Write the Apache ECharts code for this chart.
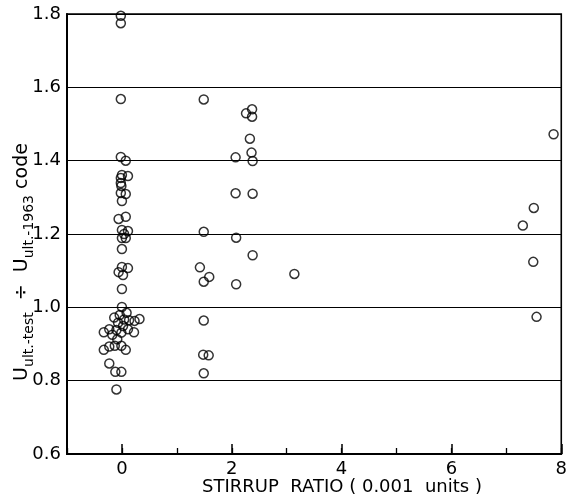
<!DOCTYPE html>
<html>
<head>
<meta charset="utf-8">
<script src="https://cdn.jsdelivr.net/npm/echarts@6/dist/echarts.min.js"></script>
<style>
  html, body { margin: 0; padding: 0; background: #fff; }
  #chart { width: 570px; height: 497px; }
</style>
</head>
<body>
<div id="chart"></div>
<script>
// === ДАННЫЕ ===
// stirrup ratio (0.001 units) vs U_ult-test / U_ult-1963 code
const noStirrups = [
  [-0.02, 1.795], [-0.02, 1.775], [-0.02, 1.568],
  [-0.02, 1.410], [0.07, 1.400], [0.00, 1.361], [0.11, 1.358], [-0.02, 1.353],
  [-0.02, 1.339], [-0.01, 1.331], [-0.02, 1.312], [0.07, 1.309], [0.00, 1.290],
  [-0.06, 1.241], [0.07, 1.247], [0.00, 1.211], [0.11, 1.208], [0.04, 1.200],
  [0.00, 1.189], [0.07, 1.189], [0.00, 1.159], [0.00, 1.110], [0.11, 1.107],
  [-0.06, 1.096], [0.02, 1.088], [0.00, 1.050], [0.00, 1.001],
  [-0.04, 0.979], [0.085, 0.985], [-0.14, 0.972], [0.04, 0.967], [-0.07, 0.958],
  [0.13, 0.965], [0.23, 0.963], [0.32, 0.968], [0.02, 0.949], [-0.23, 0.940],
  [-0.10, 0.938], [0.11, 0.940], [-0.33, 0.932], [-0.175, 0.925], [-0.01, 0.931],
  [0.22, 0.932], [-0.085, 0.913], [-0.33, 0.884], [-0.23, 0.893], [-0.13, 0.895],
  [-0.01, 0.895], [0.07, 0.884], [-0.23, 0.847], [-0.12, 0.824], [-0.01, 0.824],
  [-0.10, 0.776]
];
const lowStirrups = [
  [1.49, 1.567], [2.26, 1.529], [2.37, 1.540], [2.37, 1.520], [2.33, 1.460],
  [2.36, 1.422], [2.07, 1.409], [2.38, 1.399], [2.07, 1.311], [2.38, 1.310],
  [1.49, 1.206], [2.08, 1.190], [2.38, 1.142], [1.42, 1.109], [1.59, 1.083],
  [1.49, 1.070], [2.08, 1.063], [3.14, 1.091], [1.49, 0.964], [1.48, 0.871],
  [1.58, 0.869], [1.49, 0.820]
];
const highStirrups = [
  [7.86, 1.472], [7.50, 1.271], [7.30, 1.223], [7.49, 1.124], [7.55, 0.974]
];
const xMajorTicks = [0, 2, 4, 6, 8];
const yTicks = [0.6, 0.8, 1.0, 1.2, 1.4, 1.6, 1.8];

// === РЕНДЕРИНГ ===
const chart = echarts.init(document.getElementById('chart'));
const font = 'DejaVu Sans';

const pointStyle = {
  type: 'scatter',
  symbol: 'circle',
  symbolSize: 9,
  itemStyle: { color: 'rgba(0,0,0,0)', borderColor: '#000', borderWidth: 1.5 },
  silent: true
};

chart.setOption({
  animation: false,
  grid: { left: 67, right: 5, top: 14, bottom: 43, show: true, borderColor: '#000', borderWidth: 1.6 },
  xAxis: [
    {
      // минорные засечки на каждой единице + подписи на чётных
      type: 'value', min: -1, max: 8, interval: 1,
      axisLine: { show: true, onZero: false, lineStyle: { color: '#000', width: 2 } },
      axisTick: { show: true, inside: true, length: 6, lineStyle: { color: '#000', width: 1.3 } },
      axisLabel: { customValues: xMajorTicks, color: '#000', fontSize: 18, fontFamily: font, margin: 6 },
      splitLine: { show: false }
    },
    {
      // длинные засечки на чётных
      type: 'value', min: -1, max: 8, interval: 1, position: 'bottom',
      axisLine: { show: false, onZero: false },
      axisTick: { show: true, inside: true, length: 10, customValues: xMajorTicks, lineStyle: { color: '#000', width: 1.5 } },
      axisLabel: { show: false },
      splitLine: { show: false }
    }
  ],
  yAxis: {
    type: 'value', min: 0.6, max: 1.8, interval: 0.2,
    axisLine: { show: true, onZero: false, lineStyle: { color: '#000', width: 2 } },
    axisTick: { show: false },
    axisLabel: {
      color: '#000', fontSize: 18, fontFamily: font, margin: 6,
      customValues: yTicks,
      formatter: v => v.toFixed(1)
    },
    splitLine: { show: true, lineStyle: { color: '#000', width: 1.2 } }
  },
  graphic: [
    {
      type: 'text', x: 22, y: 262, rotation: Math.PI / 2,
      style: {
        text: '{u|U}{s|ult.-test}{u|  ÷  U}{s|ult.-1963}{u| code}',
        align: 'center', verticalAlign: 'middle', fill: '#000',
        rich: {
          u: { fontSize: 19, fontFamily: font, lineHeight: 28, verticalAlign: 'middle', fill: '#000' },
          s: { fontSize: 14, fontFamily: font, lineHeight: 14, verticalAlign: 'bottom', fill: '#000' }
        }
      }
    },
    {
      type: 'text', x: 342, y: 487,
      style: {
        text: 'STIRRUP  RATIO ( 0.001  units )',
        align: 'center', verticalAlign: 'middle', fill: '#000',
        fontSize: 18, fontFamily: font
      }
    }
  ],
  series: [
    Object.assign({ name: 'no stirrups', data: noStirrups }, pointStyle),
    Object.assign({ name: 'low ratio', data: lowStirrups }, pointStyle),
    Object.assign({ name: 'high ratio', data: highStirrups }, pointStyle)
  ]
});
</script>
</body>
</html>
